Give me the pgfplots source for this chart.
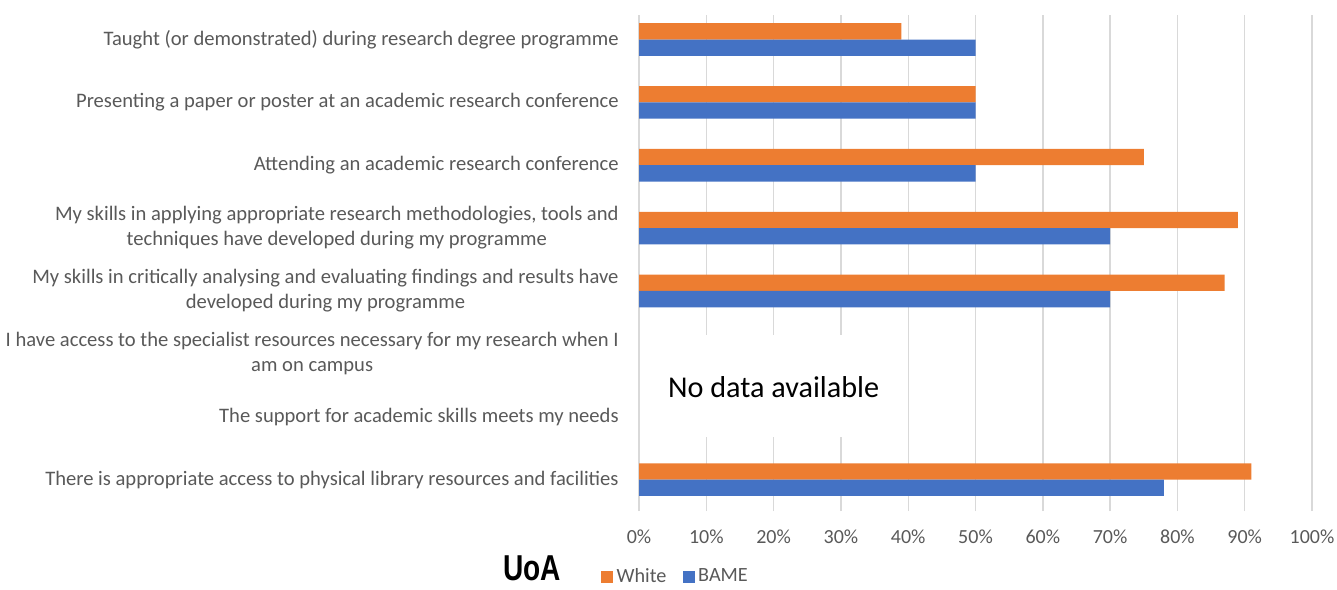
\documentclass[border=0pt]{standalone}
\usepackage{fontspec}
\setmainfont{Carlito}
\newfontfamily\uoafont[FakeStretch=0.78]{Liberation Sans}
\usepackage{pgfplots}
\pgfplotsset{compat=1.18}
\definecolor{whiteorange}{HTML}{ED7D31}
\definecolor{bameblue}{HTML}{4472C4}
\definecolor{txtgray}{HTML}{595959}
\definecolor{gridgray}{HTML}{D9D9D9}

\begin{document}
\begin{tikzpicture}[x=1pt,y=1pt]
  \path[use as bounding box] (0,0) rectangle (668.5,294.5);
  \begin{axis}[
    at={(319.5pt,39pt)}, anchor=south west,
    scale only axis, width=336.5pt, height=248pt,
    xbar, bar width=8.15pt,
    xmin=0, xmax=100, ymin=-0.5, ymax=7.39,
    xtick={0,10,...,100},
    xticklabel={\pgfmathprintnumber{\tick}\%},
    /pgf/number format/assume math mode=true,
    ytick={0,...,7},
    yticklabels={
      {There is appropriate access to physical library resources and facilities},
      {The support for academic skills meets my needs},
      {I have access to the specialist resources necessary for my research when I\\am on campus},
      {My skills in critically analysing and evaluating findings and results have\\developed during my programme},
      {My skills in applying appropriate research methodologies, tools and\\techniques have developed during my programme},
      {Attending an academic research conference},
      {Presenting a paper or poster at an academic research conference},
      {Taught (or demonstrated) during research degree programme}},
    yticklabel style={align=center, inner sep=0pt, xshift=-10pt,
      font=\fontsize{10.3}{12.5}\selectfont, text=txtgray},
    xticklabel style={inner sep=0pt, yshift=-9pt,
      font=\fontsize{10}{12}\selectfont, text=txtgray},
    major tick length=0pt,
    axis line style={draw=none},
    xmajorgrids, grid style={gridgray, line width=0.7pt},
    legend columns=2,
    legend style={at={(-0.0565,-0.133)}, anchor=west, draw=none, fill=none,
      inner sep=0pt, font=\fontsize{10.1}{12}\selectfont, text=txtgray,
      nodes={inner sep=1.8pt},
      /tikz/every even column/.append style={column sep=6.5pt}},
    legend image code/.code={\fill[#1] (0pt,-2.9pt) rectangle (5.8pt,2.9pt);},
  ]
    % White
    \addplot[fill=whiteorange, draw=none, bar shift=4.075pt] coordinates {
      (91,0) (87,3) (89,4) (75,5) (50,6) (39,7)};
    % BAME
    \addplot[fill=bameblue, draw=none, bar shift=-4.075pt] coordinates {
      (78,0) (70,3) (70,4) (50,5) (50,6) (50,7)};
    \legend{White, BAME}
    \fill[white] (axis cs:1.2,0.676) rectangle (axis cs:38,2.298);
    \node[font=\fontsize{15.1}{18}\selectfont, text=black] at (axis cs:20,1.47) {No data available};
  \end{axis}
  \node[font=\uoafont\bfseries\fontsize{18}{18}\selectfont, anchor=base west, inner sep=0pt]
    at (251.3,4.2) {UoA};
\end{tikzpicture}
\end{document}
